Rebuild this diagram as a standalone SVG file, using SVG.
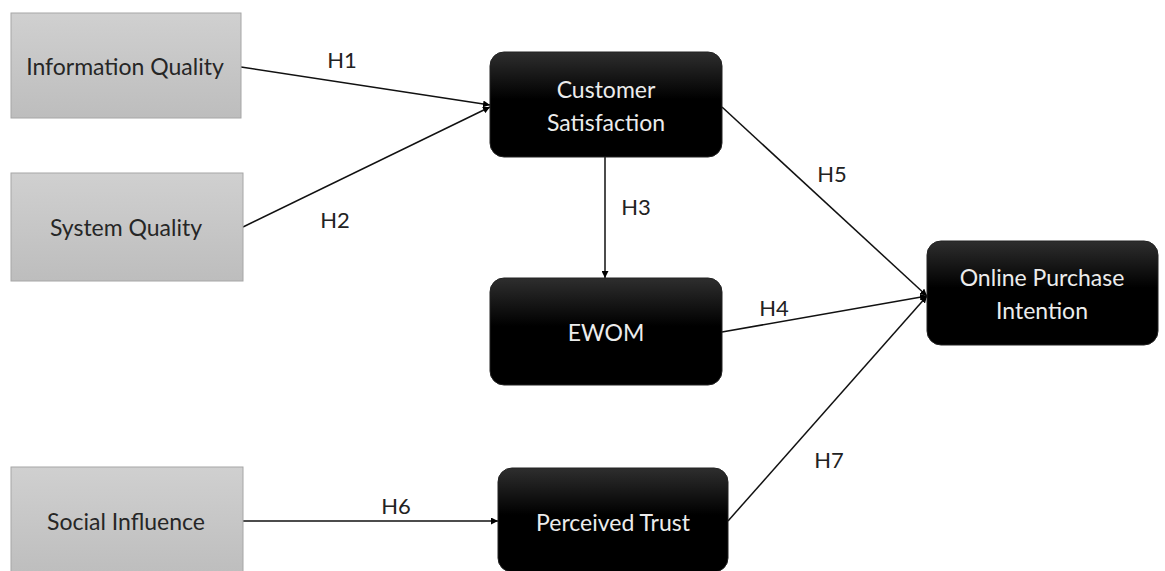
<svg xmlns="http://www.w3.org/2000/svg" width="1165" height="571" viewBox="0 0 1165 571">
<defs>
<linearGradient id="gGray" x1="0" y1="0" x2="0" y2="1">
<stop offset="0" stop-color="#d0d0d0"/>
<stop offset="1" stop-color="#bdbdbd"/>
</linearGradient>
<linearGradient id="gBlack" x1="0" y1="0" x2="0" y2="1">
<stop offset="0" stop-color="#2e2e2e"/>
<stop offset="0.45" stop-color="#000"/>
<stop offset="1" stop-color="#000"/>
</linearGradient>
<marker id="arr" viewBox="0 0 10 10" refX="10" refY="5" markerWidth="7" markerHeight="7" markerUnits="userSpaceOnUse" orient="auto">
<path d="M0,0 L10,5 L0,10 z" fill="#000"/>
</marker>
</defs>
<style>
.gray{fill:url(#gGray);stroke:#a6a6a6;stroke-width:1}
.blk{fill:url(#gBlack);stroke:#222;stroke-width:1}
.tg{font-family:Lato,"Liberation Sans",sans-serif;font-size:23px;fill:#262626;text-anchor:middle;dominant-baseline:central}
.tw{font-family:Lato,"Liberation Sans",sans-serif;font-size:23px;fill:#ececec;text-anchor:middle;dominant-baseline:central}
.lb{font-family:Lato,"Liberation Sans",sans-serif;font-size:22px;fill:#222;text-anchor:middle;dominant-baseline:central}
.ln{stroke:#111;stroke-width:1.5;fill:none;marker-end:url(#arr)}
</style>
<rect width="1165" height="571" fill="#fff"/>
<g id="connectors">
<line class="ln" x1="241" y1="67" x2="490" y2="105"/>
<line class="ln" x1="243" y1="227" x2="490" y2="107"/>
<line class="ln" x1="605" y1="157" x2="605" y2="278"/>
<line class="ln" x1="722" y1="332" x2="927" y2="296"/>
<line class="ln" x1="722" y1="107" x2="927" y2="296"/>
<line class="ln" x1="243" y1="521" x2="498" y2="521"/>
<line class="ln" x1="728" y1="521" x2="927" y2="296"/>
<text class="lb" x="342" y="59">H1</text>
<text class="lb" x="335" y="219">H2</text>
<text class="lb" x="636" y="206">H3</text>
<text class="lb" x="774" y="307">H4</text>
<text class="lb" x="832" y="173">H5</text>
<text class="lb" x="396" y="505">H6</text>
<text class="lb" x="829" y="459">H7</text>
</g>
<g id="info-quality">
<rect class="gray" x="11" y="13" width="230" height="105"/>
<text class="tg" x="125" y="66">Information Quality</text>
</g>
<g id="system-quality">
<rect class="gray" x="11" y="173" width="232" height="108"/>
<text class="tg" x="126" y="227">System Quality</text>
</g>
<g id="social-influence">
<rect class="gray" x="11" y="467" width="232" height="110"/>
<text class="tg" x="126" y="521">Social Influence</text>
</g>
<g id="customer-satisfaction">
<rect class="blk" x="490" y="52" width="232" height="105" rx="14"/>
<text class="tw" x="606" y="89">Customer</text>
<text class="tw" x="606" y="122">Satisfaction</text>
</g>
<g id="ewom">
<rect class="blk" x="490" y="278" width="232" height="107" rx="14"/>
<text class="tw" x="606" y="332">EWOM</text>
</g>
<g id="online-purchase-intention">
<rect class="blk" x="927" y="241" width="231" height="104" rx="14"/>
<text class="tw" x="1042" y="277">Online Purchase</text>
<text class="tw" x="1042" y="310">Intention</text>
</g>
<g id="perceived-trust">
<rect class="blk" x="498" y="468" width="230" height="104" rx="14"/>
<text class="tw" x="613" y="522">Perceived Trust</text>
</g>
</svg>
